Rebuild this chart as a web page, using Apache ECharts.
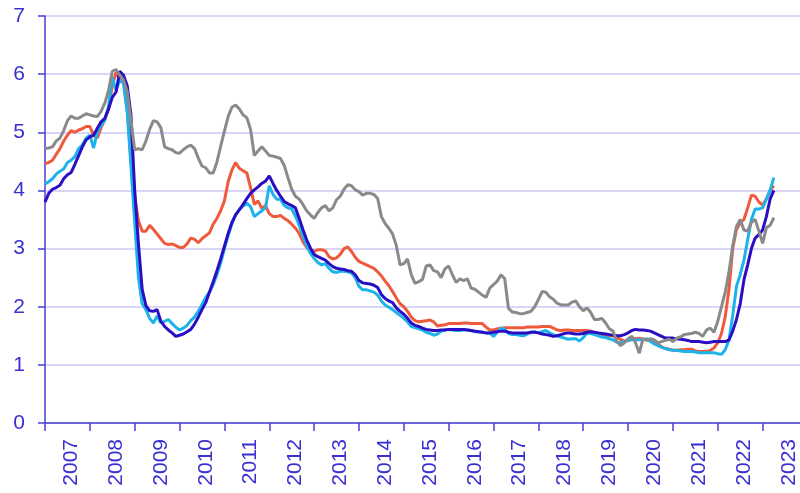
<!DOCTYPE html>
<html>
<head>
<meta charset="utf-8">
<script src="https://cdn.jsdelivr.net/npm/echarts@6/dist/echarts.min.js"></script>
<style>
html,body{margin:0;padding:0;background:#fff;}
#chart{width:800px;height:493px;}
</style>
</head>
<body>
<div id="chart"></div>
<script>
// Tick labels (years)
const years = ['2007','2008','2009','2010','2011','2012','2013','2014','2015','2016','2017','2018','2019','2020','2021','2022','2023'];

// Monthly series, Jan 2007 .. Apr 2023 (one row per year)
const seriesDarkBlue = [
  3.80,3.95,4.02,4.05,4.09,4.20,4.27,4.31,4.45,4.60,4.75,4.87,
  4.92,4.95,5.07,5.18,5.24,5.40,5.60,5.69,6.05,5.98,5.80,5.30,
  4.00,3.08,2.30,2.02,1.93,1.92,1.95,1.75,1.66,1.60,1.55,1.49,
  1.51,1.53,1.57,1.61,1.70,1.82,1.95,2.07,2.25,2.43,2.62,2.82,
  3.04,3.26,3.45,3.58,3.67,3.76,3.86,3.95,4.01,4.06,4.12,4.16,
  4.25,4.12,4.00,3.90,3.81,3.77,3.74,3.70,3.52,3.33,3.15,3.01,
  2.90,2.86,2.83,2.80,2.74,2.69,2.66,2.65,2.64,2.62,2.61,2.55,
  2.45,2.41,2.40,2.39,2.37,2.33,2.21,2.14,2.10,2.07,1.98,1.92,
  1.87,1.80,1.72,1.68,1.66,1.63,1.61,1.60,1.59,1.59,1.60,1.60,
  1.61,1.61,1.61,1.61,1.61,1.60,1.59,1.58,1.57,1.56,1.55,1.55,
  1.56,1.57,1.58,1.58,1.56,1.55,1.55,1.55,1.55,1.55,1.56,1.56,
  1.55,1.53,1.52,1.51,1.49,1.50,1.52,1.54,1.55,1.54,1.53,1.53,
  1.54,1.56,1.57,1.56,1.55,1.54,1.53,1.52,1.51,1.50,1.50,1.52,
  1.55,1.59,1.61,1.60,1.60,1.59,1.58,1.55,1.52,1.49,1.46,1.46,
  1.46,1.45,1.44,1.43,1.42,1.40,1.40,1.40,1.39,1.38,1.39,1.40,
  1.40,1.40,1.40,1.43,1.58,1.78,2.05,2.46,2.72,3.00,3.18,3.24,
  3.32,3.55,3.85,4.00
];
const seriesLightBlue = [
  4.11,4.15,4.20,4.28,4.33,4.37,4.48,4.52,4.58,4.72,4.78,4.90,
  4.95,4.73,5.00,5.12,5.20,5.45,5.95,5.72,5.90,5.84,5.35,4.40,
  3.45,2.50,2.05,1.95,1.80,1.72,1.84,1.72,1.75,1.78,1.71,1.65,
  1.60,1.63,1.68,1.76,1.82,1.92,2.04,2.16,2.25,2.38,2.55,2.75,
  3.00,3.22,3.42,3.58,3.67,3.73,3.78,3.72,3.55,3.60,3.65,3.70,
  4.08,3.93,3.85,3.85,3.74,3.70,3.68,3.56,3.40,3.22,3.05,2.92,
  2.83,2.76,2.72,2.74,2.66,2.60,2.59,2.61,2.61,2.60,2.58,2.50,
  2.35,2.29,2.29,2.27,2.25,2.20,2.10,2.03,1.99,1.95,1.90,1.85,
  1.80,1.74,1.66,1.64,1.62,1.60,1.56,1.54,1.51,1.53,1.58,1.60,
  1.61,1.60,1.59,1.59,1.60,1.60,1.59,1.57,1.57,1.56,1.55,1.55,
  1.49,1.56,1.63,1.61,1.54,1.52,1.52,1.51,1.50,1.53,1.56,1.57,
  1.55,1.57,1.59,1.55,1.52,1.50,1.48,1.46,1.44,1.45,1.45,1.41,
  1.47,1.54,1.54,1.52,1.50,1.48,1.47,1.45,1.43,1.39,1.38,1.40,
  1.42,1.43,1.43,1.43,1.43,1.45,1.40,1.36,1.33,1.30,1.28,1.26,
  1.25,1.25,1.24,1.23,1.23,1.23,1.22,1.21,1.21,1.21,1.21,1.21,
  1.19,1.18,1.26,1.43,1.85,2.35,2.55,2.80,3.15,3.50,3.68,3.68,
  3.70,3.85,4.00,4.22
];
const seriesRed = [
  4.46,4.48,4.52,4.62,4.72,4.85,4.95,5.03,5.00,5.04,5.06,5.10,
  5.10,4.95,4.90,5.08,5.22,5.40,5.80,6.03,5.93,5.88,5.40,4.52,
  3.90,3.48,3.30,3.30,3.40,3.33,3.25,3.17,3.09,3.07,3.08,3.05,
  3.02,3.02,3.08,3.18,3.16,3.10,3.17,3.22,3.27,3.42,3.52,3.65,
  3.82,4.15,4.35,4.48,4.38,4.34,4.30,4.05,3.76,3.82,3.69,3.74,
  3.60,3.55,3.55,3.57,3.52,3.48,3.42,3.35,3.26,3.12,3.02,2.98,
  2.95,2.98,2.98,2.96,2.86,2.82,2.84,2.90,3.00,3.03,2.95,2.85,
  2.78,2.75,2.72,2.69,2.66,2.60,2.53,2.44,2.36,2.26,2.15,2.05,
  2.00,1.92,1.82,1.76,1.74,1.75,1.76,1.77,1.74,1.67,1.68,1.69,
  1.71,1.71,1.71,1.71,1.72,1.72,1.71,1.71,1.71,1.71,1.65,1.60,
  1.60,1.62,1.63,1.64,1.64,1.64,1.64,1.64,1.64,1.65,1.65,1.65,
  1.65,1.66,1.66,1.66,1.63,1.60,1.59,1.60,1.60,1.59,1.59,1.59,
  1.59,1.59,1.58,1.55,1.53,1.52,1.50,1.50,1.50,1.47,1.44,1.41,
  1.42,1.44,1.45,1.46,1.44,1.43,1.43,1.40,1.36,1.31,1.28,1.27,
  1.25,1.25,1.26,1.26,1.27,1.27,1.24,1.23,1.23,1.23,1.25,1.29,
  1.38,1.54,1.83,2.30,3.00,3.33,3.44,3.50,3.70,3.92,3.90,3.80,
  3.75,3.85,4.00,4.08
];
const seriesGray = [
  4.72,4.73,4.75,4.85,4.90,5.03,5.20,5.28,5.24,5.24,5.28,5.32,
  5.30,5.28,5.27,5.36,5.50,5.72,6.05,6.08,5.98,5.90,5.70,5.20,
  4.70,4.72,4.70,4.85,5.05,5.20,5.18,5.08,4.75,4.72,4.70,4.65,
  4.64,4.70,4.75,4.78,4.72,4.56,4.42,4.39,4.30,4.30,4.49,4.76,
  5.02,5.27,5.43,5.47,5.40,5.30,5.25,5.05,4.60,4.68,4.75,4.68,
  4.60,4.59,4.57,4.55,4.43,4.22,4.02,3.90,3.85,3.76,3.65,3.58,
  3.52,3.62,3.70,3.74,3.65,3.70,3.84,3.90,4.02,4.10,4.08,4.01,
  3.98,3.92,3.95,3.95,3.93,3.86,3.55,3.43,3.35,3.25,3.05,2.72,
  2.74,2.82,2.55,2.40,2.43,2.47,2.70,2.72,2.62,2.60,2.50,2.65,
  2.70,2.55,2.42,2.48,2.45,2.48,2.32,2.30,2.25,2.20,2.16,2.32,
  2.38,2.44,2.55,2.48,1.97,1.91,1.90,1.88,1.88,1.90,1.92,2.00,
  2.12,2.26,2.25,2.17,2.13,2.06,2.03,2.03,2.03,2.08,2.10,2.00,
  1.93,1.98,1.90,1.78,1.78,1.80,1.72,1.62,1.58,1.40,1.33,1.38,
  1.45,1.49,1.38,1.20,1.45,1.42,1.45,1.43,1.38,1.40,1.42,1.44,
  1.40,1.46,1.48,1.52,1.53,1.54,1.56,1.54,1.49,1.60,1.63,1.56,
  1.75,2.00,2.25,2.60,3.05,3.38,3.50,3.32,3.30,3.45,3.50,3.30,
  3.09,3.36,3.40,3.53
];

// Month categories Jan 2007 .. Nov 2023 (axis runs to the right edge)
const months = [];
years.forEach(function (y) {
  for (let m = 1; m <= 12; m++) months.push(y + '-' + (m < 10 ? '0' + m : m));
});
const categories = months.slice(0, 203);

const axisColor = '#4a3fd2';
const textColor = '#3a2fd0';
const font = "'Liberation Sans', Arial, sans-serif";

const chart = echarts.init(document.getElementById('chart'), null, {renderer: 'canvas'});
chart.setOption({
  animation: false,
  backgroundColor: '#ffffff',
  grid: {left: 45, right: 0, top: 16, bottom: 70, containLabel: false},
  xAxis: {
    type: 'category',
    data: categories,
    boundaryGap: false,
    axisLine: {show: true, lineStyle: {color: axisColor, width: 1.5}},
    axisTick: {
      show: true, length: 8,
      interval: function (i) { return i % 12 === 0; },
      lineStyle: {color: axisColor, width: 1.5}
    },
    axisLabel: {
      interval: function (i) { return i % 12 === 7; },
      rotate: 90,
      margin: 16,
      color: textColor,
      fontSize: 21,
      fontFamily: font,
      formatter: function (v) { return v.slice(0, 4); }
    },
    splitLine: {show: false}
  },
  yAxis: {
    type: 'value',
    min: 0, max: 7, interval: 1,
    axisLine: {show: true, lineStyle: {color: axisColor, width: 1.5}},
    axisTick: {show: true, length: 7, lineStyle: {color: axisColor, width: 1.5}},
    axisLabel: {margin: 20, color: textColor, fontSize: 21, fontFamily: font},
    splitLine: {show: true, lineStyle: {color: '#cdc9f4', width: 1.5}}
  },
  series: [
    {name: 'Red', type: 'line', data: seriesRed, showSymbol: false, lineStyle: {color: '#f05a3c', width: 3}, itemStyle: {color: '#f05a3c'}},
    {name: 'Light blue', type: 'line', data: seriesLightBlue, showSymbol: false, lineStyle: {color: '#1cb3ea', width: 3}, itemStyle: {color: '#1cb3ea'}},
    {name: 'Dark blue', type: 'line', data: seriesDarkBlue, showSymbol: false, lineStyle: {color: '#2a0ec4', width: 3}, itemStyle: {color: '#2a0ec4'}},
    {name: 'Gray', type: 'line', data: seriesGray, showSymbol: false, lineStyle: {color: '#8a8a8a', width: 3}, itemStyle: {color: '#8a8a8a'}}
  ]
});
</script>
</body>
</html>
